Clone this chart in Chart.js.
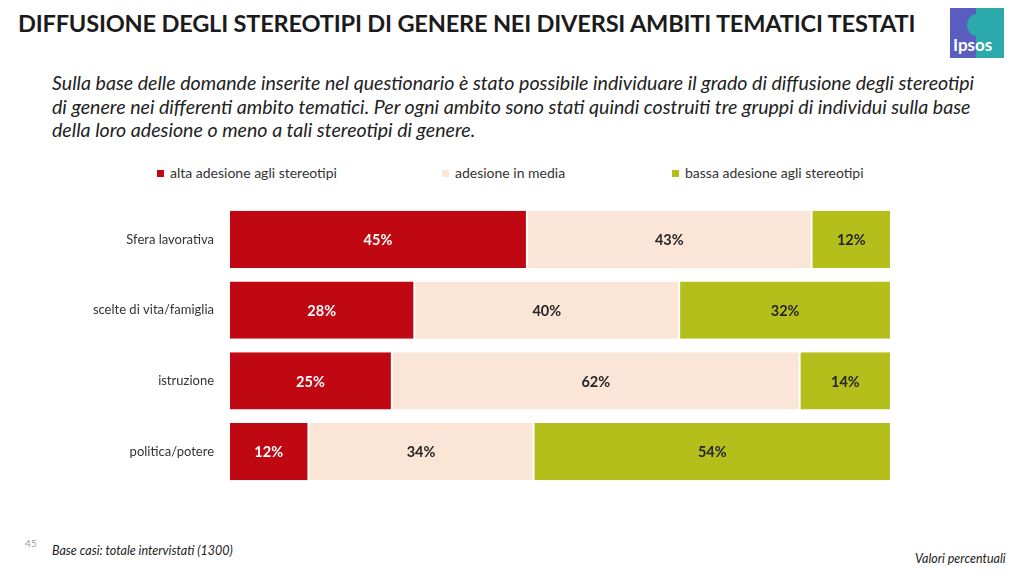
<!DOCTYPE html>
<html>
<head>
<meta charset="utf-8">
<script src="https://cdn.jsdelivr.net/npm/chart.js@4.4.0/dist/chart.umd.min.js"></script>
<style>
  html,body{margin:0;padding:0;background:#fff;}
  body{width:1023px;height:573px;position:relative;overflow:hidden;font-family:"Open Sans","Liberation Sans",sans-serif;}
  #title{position:absolute;left:18px;top:9px;font-family:"Lato",sans-serif;font-weight:bold;font-size:23.6px;color:#1b1b1b;white-space:nowrap;letter-spacing:-0.2px;}
  #sub{position:absolute;left:52px;top:71px;font-family:"Lato",sans-serif;font-style:italic;font-size:19.6px;line-height:23.5px;color:#222;white-space:nowrap;}
  .leg{position:absolute;top:164px;font-family:"Lato",sans-serif;font-size:14px;color:#333;white-space:nowrap;}
  .leg i{display:inline-block;width:7px;height:7px;margin-right:6px;vertical-align:1px;}
  #chartwrap{position:absolute;left:0;top:195px;width:1023px;height:310px;}
  #pg{position:absolute;left:25px;top:537px;font-size:10px;color:#999;font-family:"Lato",sans-serif;}
  #base{position:absolute;left:52px;top:543px;font-size:12.5px;font-style:italic;color:#222;font-family:"Lato",sans-serif;}
  #val{position:absolute;left:915px;top:551px;font-size:12.5px;font-style:italic;color:#222;font-family:"Lato",sans-serif;}
  #logo{position:absolute;left:950px;top:8px;width:54px;height:50px;overflow:hidden;}
  #logo .l{position:absolute;left:0;top:0;width:28px;height:50px;background:#5a5cbf;}
  #logo .r{position:absolute;left:26px;top:0;width:28px;height:50px;background:#2ba9ab;}
  #logo .h{position:absolute;left:17px;top:6px;width:19px;height:22px;border-radius:50% 50% 40% 50%;background:#2ba9ab;}
  #logo .t{position:absolute;left:3px;top:26px;color:#fff;font-family:"Lato",sans-serif;font-weight:bold;font-size:17px;}
</style>
</head>
<body>
<div id="title">DIFFUSIONE DEGLI STEREOTIPI DI GENERE NEI DIVERSI AMBITI TEMATICI TESTATI</div>
<div id="logo"><div class="l"></div><div class="r"></div><div class="h"></div><div class="t">Ipsos</div></div>
<div id="sub">Sulla base delle domande inserite nel questionario è stato possibile individuare il grado di diffusione degli stereotipi<br>di genere nei differenti ambito tematici. Per ogni ambito sono stati quindi costruiti tre gruppi di individui sulla base<br>della loro adesione o meno a tali stereotipi di genere.</div>
<div id="legend"></div>
<div id="chartwrap"><canvas id="c" width="1023" height="310"></canvas></div>
<div id="pg">45</div>
<div id="base">Base casi: totale intervistati (1300)</div>
<div id="val">Valori percentuali</div>
<script>
const categories = ["Sfera lavorativa", "scelte di vita/famiglia", "istruzione", "politica/potere"];
const seriesNames = ["alta adesione agli stereotipi", "adesione in media", "bassa adesione agli stereotipi"];
const alta  = [45, 28, 24.6, 12];
const media = [43, 40, 61.6, 34];
const bassa = [12, 32, 13.8, 54];
const altaLabels  = ["45%", "28%", "25%", "12%"];
const mediaLabels = ["43%", "40%", "62%", "34%"];
const bassaLabels = ["12%", "32%", "14%", "54%"];
const colors = ["#c00812", "#fbe5d6", "#b5bf1b"];
const labelColors = ["#ffffff", "#262626", "#262626"];
const legendX = [157, 442, 672];

const legEl = document.getElementById('legend');
seriesNames.forEach((n, i) => {
  const d = document.createElement('div');
  d.className = 'leg';
  d.style.left = legendX[i] + 'px';
  d.innerHTML = '<i style="background:' + colors[i] + '"></i>' + n;
  legEl.appendChild(d);
});

const labelSets = [altaLabels, mediaLabels, bassaLabels];
const barLabels = {
  id: 'barLabels',
  afterDatasetsDraw(chart) {
    const ctx = chart.ctx;
    ctx.save();
    ctx.font = 'bold 14.5px Lato, sans-serif';
    ctx.textAlign = 'center';
    ctx.textBaseline = 'middle';
    chart.data.datasets.forEach((ds, di) => {
      chart.getDatasetMeta(di).data.forEach((bar, i) => {
        const cx = (bar.x + bar.base) / 2;
        ctx.fillStyle = labelColors[di];
        ctx.fillText(labelSets[di][i], cx, bar.y + 1);
      });
    });
    ctx.restore();
  }
};

new Chart(document.getElementById('c'), {
  type: 'bar',
  data: {
    labels: categories,
    datasets: [
      {label: seriesNames[0], data: alta, backgroundColor: colors[0]},
      {label: seriesNames[1], data: media, backgroundColor: colors[1]},
      {label: seriesNames[2], data: bassa, backgroundColor: colors[2]}
    ].map(d => Object.assign(d, {borderColor: '#ffffff', borderWidth: {left: 1, right: 1, top: 0, bottom: 0}, borderSkipped: false, barPercentage: 0.81, categoryPercentage: 1}))
  },
  options: {
    indexAxis: 'y',
    responsive: false,
    animation: false,
    layout: {padding: {left: 0, right: 132, top: 9, bottom: 18}},
    plugins: {legend: {display: false}, tooltip: {enabled: false}},
    scales: {
      x: {stacked: true, min: 0, max: 100, display: false},
      y: {
        stacked: true,
        border: {display: false},
        grid: {display: false, drawTicks: false},
        ticks: {padding: 15, color: '#333', font: {family: 'Lato, sans-serif', size: 13}},
        afterFit(scale) { scale.width = 229; scale.paddingTop = 0; scale.paddingBottom = 0; }
      }
    }
  },
  plugins: [barLabels]
});
</script>
</body>
</html>
